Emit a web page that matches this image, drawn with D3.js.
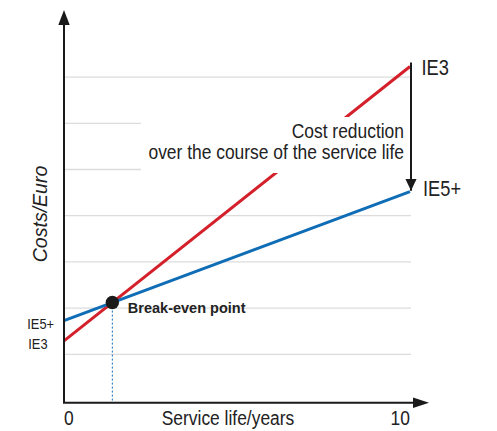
<!DOCTYPE html>
<html>
<head>
<meta charset="utf-8">
<script src="https://cdn.jsdelivr.net/npm/d3@7"></script>
<style>
  body { margin: 0; background: #fff; }
  .narrow { font-family: "Liberation Sans Narrow", "Liberation Sans", Arial, sans-serif; fill: #222; }
</style>
</head>
<body>
<div id="chart"></div>
<script>
// years on the x axis
var years = [0, 10];
// total costs (arbitrary units, one grid step = 1)
var costIE3 = [1.29, 7.23];
var costIE5 = [1.73, 4.52];
var gridValues = [1, 2, 3, 4, 5, 6, 7];
var seriesNames = ["IE3", "IE5+"];

var width = 497, height = 431;
var red = "#d3202a", blue = "#0f6db6", axisColor = "#1a1a1a", gridColor = "#dcdcdc";
const squeeze = 0.83   // condensed look for the labels

var svg = d3.select("#chart").append("svg")
    .attr("width", width)
    .attr("height", height);

var x = d3.scaleLinear().domain([0, 10]).range([64, 410]);
var y = d3.scaleLinear().domain([0, 8]).range([400.5, 30.9]);

var axisY = y(-0.048);   // x axis sits slightly below the zero line
var axisTop = y(8.45);
var axisRight = x(10.55);

// condensed label helper
function narrowText(px, py, size, anchor, txt) {
  return svg.append("text")
    .attr("class", "narrow")
    .attr("transform", "translate(" + px + "," + py + ") scale(" + squeeze + ",1)")
    .attr("text-anchor", anchor)
    .style("font-size", size + "px")
    .text(txt);
}

// grid lines
svg.append("g")
  .selectAll("line")
  .data(gridValues)
  .enter().append("line")
    .attr("x1", x(0))
    .attr("x2", x(10) + 1)
    .attr("y1", function(d) { return y(d); })
    .attr("y2", function(d) { return y(d); })
    .style("stroke", gridColor)
    .style("stroke-width", 1.3);

// cost lines
var line = d3.line()
    .x(function(d) { return x(d[0]); })
    .y(function(d) { return y(d[1]); });

var ie3 = d3.zip(years, costIE3);
var ie5 = d3.zip(years, costIE5);

svg.append("path")
    .attr("d", line(ie3))
    .style("fill", "none")
    .style("stroke", red)
    .style("stroke-width", 3);

svg.append("path")
    .attr("d", line(ie5))
    .style("fill", "none")
    .style("stroke", blue)
    .style("stroke-width", 3);

// break-even point: where both lines meet
var slope3 = (costIE3[1] - costIE3[0]) / (years[1] - years[0]);
var slope5 = (costIE5[1] - costIE5[0]) / (years[1] - years[0]);
var tBreak = (costIE5[0] - costIE3[0]) / (slope3 - slope5);
var cBreak = costIE3[0] + slope3 * tBreak;

svg.append("line")
    .attr("x1", x(tBreak)).attr("x2", x(tBreak))
    .attr("y1", y(cBreak)).attr("y2", axisY)
    .style("stroke", blue)
    .style("stroke-width", 1)
    .style("stroke-dasharray", "2,2");

svg.append("circle")
    .attr("cx", x(tBreak))
    .attr("cy", y(cBreak))
    .attr("r", 6.7)
    .style("fill", "#1a1a1a");

svg.append("text")
    .attr("x", x(tBreak) + 15.5)
    .attr("y", y(cBreak) + 10)
    .style("font-family", "'Liberation Sans', Arial, sans-serif")
    .style("font-weight", "bold")
    .style("font-size", "14.5px")
    .style("fill", "#222")
    .text("Break-even point");

// white box behind the annotation text
svg.append("rect")
    .attr("x", 141).attr("y", 117)
    .attr("width", x(10) + 2 - 141).attr("height", 56)
    .style("fill", "#fff");

narrowText(404, 137.5, 21, "end", "Cost reduction");
narrowText(404, 158.5, 21, "end", "over the course of the service life");

// cost reduction arrow
var defs = svg.append("defs");
defs.append("marker")
    .attr("id", "arrowDown")
    .attr("viewBox", "0 0 12 12")
    .attr("refX", 12).attr("refY", 6)
    .attr("markerWidth", 12).attr("markerHeight", 12)
    .attr("markerUnits", "userSpaceOnUse")
    .attr("orient", "auto")
  .append("path")
    .attr("d", "M0,0.3 L12,6 L0,11.7 Z")
    .style("fill", axisColor);

svg.append("line")
    .attr("x1", x(10) + 1).attr("x2", x(10) + 1)
    .attr("y1", y(costIE3[1]) - 4)
    .attr("y2", y(costIE5[1]) - 1)
    .style("stroke", axisColor)
    .style("stroke-width", 2)
    .attr("marker-end", "url(#arrowDown)");

// end labels
narrowText(x(10) + 11.5, y(costIE3[1]) + 8.3, 22, "start", seriesNames[0]);
narrowText(x(10) + 13, y(costIE5[1]) + 4.3, 22, "start", seriesNames[1]);

// start labels on the y axis side
narrowText(27.3, 328.5, 15.5, "start", seriesNames[1]);
narrowText(28.3, 348.5, 15.5, "start", seriesNames[0]);

// axes with arrow heads
svg.append("line")
    .attr("x1", x(0)).attr("x2", x(0))
    .attr("y1", axisY).attr("y2", axisTop + 12)
    .style("stroke", axisColor)
    .style("stroke-width", 2);
svg.append("path")
    .attr("d", "M" + (x(0) - 5.7) + "," + (axisTop + 15) + " L" + x(0) + "," + axisTop + " L" + (x(0) + 5.7) + "," + (axisTop + 15) + " Z")
    .style("fill", axisColor);

svg.append("line")
    .attr("x1", x(0) - 1).attr("x2", axisRight - 12)
    .attr("y1", axisY).attr("y2", axisY)
    .style("stroke", axisColor)
    .style("stroke-width", 2);
svg.append("path")
    .attr("d", "M" + (axisRight - 16) + "," + (axisY - 5.3) + " L" + axisRight + "," + axisY + " L" + (axisRight - 16) + "," + (axisY + 5.3) + " Z")
    .style("fill", axisColor);

// tick labels
narrowText(x(0), 425, 21, "start", years[0]);
narrowText(x(10), 425, 21, "end", years[1]);

// axis titles
narrowText(161.7, 425, 21, "start", "Service life/years");

svg.append("text")
    .attr("transform", "translate(47,214) rotate(-90)")
    .attr("text-anchor", "middle")
    .style("font-family", "'Liberation Sans', Arial, sans-serif")
    .style("font-style", "italic")
    .style("font-size", "19.5px")
    .style("fill", "#222")
    .text("Costs/Euro");
</script>
</body>
</html>
